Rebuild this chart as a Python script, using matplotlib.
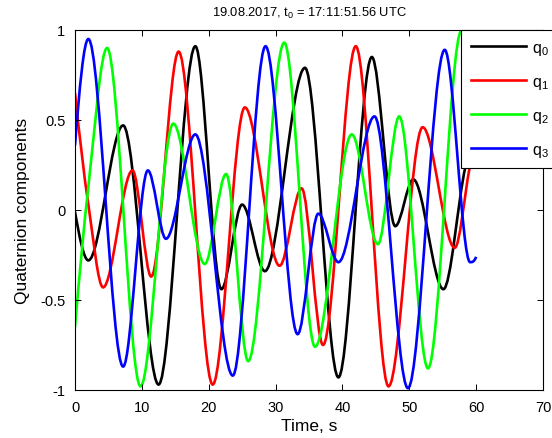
import numpy as np
import matplotlib.pyplot as plt
from matplotlib.path import Path
from matplotlib.patches import PathPatch
from matplotlib.lines import Line2D

plt.rcParams['font.family'] = 'Liberation Sans'
plt.rcParams['mathtext.fontset'] = 'custom'
plt.rcParams['mathtext.rm'] = 'Liberation Sans'
plt.rcParams['mathtext.it'] = 'Liberation Sans:italic'
plt.rcParams['axes.unicode_minus'] = False

# turning points of each quaternion component (time in s, value)
t_q0 = [0, 2.0, 7.2, 12.5, 18.0, 21.9, 25.0, 28.4, 34.4, 39.4, 44.4, 47.9, 50.6, 55.1, 58.4, 60]
q0 = [-0.01, -0.28, 0.47, -0.97, 0.91, -0.44, 0.03, -0.34, 0.79, -0.93, 0.85, -0.09, 0.17, -0.44, 0.24, 0.45]

t_q1 = [0, 2.0, 4.2, 8.6, 11.4, 15.5, 20.6, 25.4, 30.6, 33.9, 37.1, 42.0, 46.9, 52.0, 56.8, 59.0, 60]
q1 = [0.65, 0.03, -0.43, 0.22, -0.37, 0.88, -0.97, 0.57, -0.31, 0.12, -0.75, 0.91, -0.98, 0.46, -0.21, 0.23, 0.42]

t_q2 = [0, 2.0, 4.8, 9.8, 14.7, 19.4, 22.6, 25.9, 31.3, 35.9, 41.4, 45.3, 48.5, 52.8, 57.8, 60]
q2 = [-0.65, 0.13, 0.90, -0.98, 0.48, -0.30, 0.20, -0.84, 0.93, -0.76, 0.42, -0.19, 0.52, -0.88, 0.995, 0.55]

t_q3 = [0, 2.0, 7.2, 10.9, 13.6, 18.0, 23.6, 28.5, 33.3, 36.4, 39.4, 44.8, 49.8, 55.3, 59.1, 60]
q3 = [0.36, 0.95, -0.87, 0.22, -0.16, 0.42, -0.92, 0.91, -0.69, -0.02, -0.29, 0.52, -0.99, 0.89, -0.29, -0.26]

labels = ['q$_0$', 'q$_1$', 'q$_2$', 'q$_3$']
colors = ['#000000', '#ff0000', '#00ff00', '#0000ff']
xticks = [0, 10, 20, 30, 40, 50, 60, 70]
yticks = [-1, -0.5, 0, 0.5, 1]
ytick_labels = ['-1', '-0.5', '0', '0.5', '1']


def end_slope(h0, h1, d0, d1):
    s = ((2 * h0 + h1) * d0 - h0 * d1) / (h0 + h1)
    if np.sign(s) != np.sign(d0):
        return 0.0
    if np.sign(d0) != np.sign(d1) and abs(s) > 3 * abs(d0):
        return 3 * d0
    return s


def pchip_slopes(t, v):
    h = np.diff(t)
    d = np.diff(v) / h
    m = np.zeros_like(v)
    for k in range(1, len(t) - 1):
        if d[k - 1] * d[k] > 0:
            w1 = 2 * h[k] + h[k - 1]
            w2 = h[k] + 2 * h[k - 1]
            m[k] = (w1 + w2) / (w1 / d[k - 1] + w2 / d[k])
    m[0] = end_slope(h[0], h[1], d[0], d[1])
    m[-1] = end_slope(h[-1], h[-2], d[-1], d[-2])
    return m


def smooth_path(t, v):
    # monotone cubic segments written as bezier curves
    t = np.asarray(t, float)
    v = np.asarray(v, float)
    m = pchip_slopes(t, v)
    verts = [(t[0], v[0])]
    codes = [Path.MOVETO]
    for k in range(len(t) - 1):
        h = t[k + 1] - t[k]
        verts += [(t[k] + h / 3, v[k] + m[k] * h / 3),
                  (t[k + 1] - h / 3, v[k + 1] - m[k + 1] * h / 3),
                  (t[k + 1], v[k + 1])]
        codes += [Path.CURVE4] * 3
    return Path(verts, codes)


fig = plt.figure(figsize=(5.52, 4.39), dpi=100)
ax = fig.add_axes([75 / 552, 1 - 391 / 439, 468 / 552, 360 / 439])

series = [(t_q0, q0), (t_q1, q1), (t_q2, q2), (t_q3, q3)]
for (t, v), c in zip(series, colors):
    ax.add_patch(PathPatch(smooth_path(t, v), fill=False, edgecolor=c, lw=1.9,
                           capstyle='butt', joinstyle='round'))

ax.set_xlim(0, 70)
ax.set_ylim(-1, 1)
ax.set_xticks(xticks)
ax.set_yticks(yticks)
ax.set_yticklabels(ytick_labels)
ax.tick_params(direction='in', top=True, right=True, length=4, width=0.7,
               labelsize=10.5)
ax.tick_params(axis='x', pad=7)
ax.tick_params(axis='y', pad=7)
for s in ax.spines.values():
    s.set_linewidth(0.8)

ax.set_xlabel('Time, s', fontsize=12.5, labelpad=3)
ax.set_ylabel('Quaternion components', fontsize=12.5, labelpad=7)
ax.set_title('19.08.2017, t$_0$ = 17:11:51.56 UTC', fontsize=9.3, pad=10)

handles = [Line2D([], [], color=c, lw=1.9) for c in colors]
leg = fig.legend(handles, labels, loc='upper left',
                 bbox_to_anchor=(461 / 552, 1 - 31 / 439),
                 bbox_transform=fig.transFigure, borderaxespad=0,
                 frameon=True, fancybox=False, framealpha=1, edgecolor='k',
                 fontsize=11.5, handlelength=3.45, handletextpad=0.38,
                 labelspacing=1.07, borderpad=0.6)
leg.get_frame().set_linewidth(0.8)

fig.savefig('out.png', dpi=100)
